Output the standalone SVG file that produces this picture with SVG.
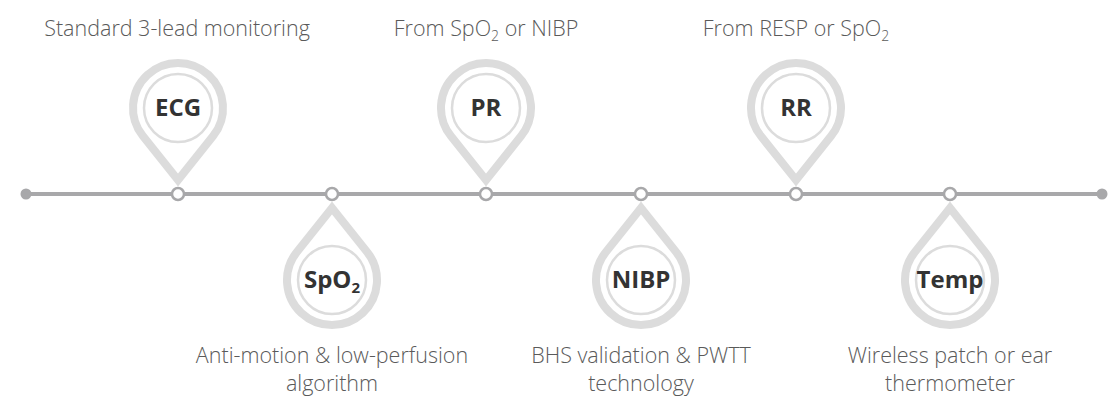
<svg xmlns="http://www.w3.org/2000/svg" width="1112" height="411" viewBox="0 0 1112 411">
<defs>
<style>
.pin{fill:#fff;stroke:#dcdcdc;stroke-width:8;stroke-linejoin:miter}
.inner{fill:#fff;stroke:#dcdcdc;stroke-width:2.5}
.lbl{font-family:"Open Sans","Liberation Sans",sans-serif;font-weight:700;font-size:24px;fill:#333;text-anchor:middle}
.cap{font-family:"Open Sans","Liberation Sans",sans-serif;font-weight:300;font-size:21.5px;fill:#5a5a5a;text-anchor:middle}
.axis{stroke:#a8a8aa;stroke-width:4;fill:none}
.node{fill:#fff;stroke:#a8a8aa;stroke-width:2.5}
.end{fill:#a8a8aa}
</style>
<path id="pinUp" d="M0 72 L-35.1 28.1 A45 45 0 1 1 35.1 28.1 Z"/>
<path id="pinDown" d="M0 -72 L-35.1 -28.1 A45 45 0 1 0 35.1 -28.1 Z"/>
</defs>
<rect width="1112" height="411" fill="#fff"/>
<g id="connectors">
<line class="axis" x1="26" y1="194" x2="1102" y2="194"/>
<circle class="end" cx="26" cy="194" r="5.5"/>
<circle class="end" cx="1102" cy="194" r="5.5"/>
</g>
<g id="ecg">
<use href="#pinUp" class="pin" x="178" y="108"/>
<circle class="inner" cx="178" cy="108" r="34"/>
<text class="lbl" x="178" y="116">ECG</text>
<circle class="node" cx="178" cy="194" r="6"/>
<text class="cap" x="177" y="36">Standard 3-lead monitoring</text>
</g>
<g id="spo2">
<use href="#pinDown" class="pin" x="332" y="280"/>
<circle class="inner" cx="332" cy="280" r="34"/>
<text class="lbl" x="332" y="288">SpO<tspan font-size="15" dy="5">2</tspan></text>
<circle class="node" cx="332" cy="194" r="6"/>
<text class="cap" x="332" y="363">Anti-motion &amp; low-perfusion</text>
<text class="cap" x="332" y="391">algorithm</text>
</g>
<g id="pr">
<use href="#pinUp" class="pin" x="486" y="108"/>
<circle class="inner" cx="486" cy="108" r="34"/>
<text class="lbl" x="486" y="116">PR</text>
<circle class="node" cx="486" cy="194" r="6"/>
<text class="cap" x="486" y="36">From SpO<tspan font-size="14" dy="5">2</tspan><tspan dy="-5"> or NIBP</tspan></text>
</g>
<g id="nibp">
<use href="#pinDown" class="pin" x="641" y="280"/>
<circle class="inner" cx="641" cy="280" r="34"/>
<text class="lbl" x="641" y="288">NIBP</text>
<circle class="node" cx="641" cy="194" r="6"/>
<text class="cap" x="641" y="363">BHS validation &amp; PWTT</text>
<text class="cap" x="641" y="391">technology</text>
</g>
<g id="rr">
<use href="#pinUp" class="pin" x="796" y="108"/>
<circle class="inner" cx="796" cy="108" r="34"/>
<text class="lbl" x="796" y="116">RR</text>
<circle class="node" cx="796" cy="194" r="6"/>
<text class="cap" x="796" y="36">From RESP or SpO<tspan font-size="14" dy="5">2</tspan></text>
</g>
<g id="temp">
<use href="#pinDown" class="pin" x="950" y="280"/>
<circle class="inner" cx="950" cy="280" r="34"/>
<text class="lbl" x="950" y="288">Temp</text>
<circle class="node" cx="950" cy="194" r="6"/>
<text class="cap" x="950" y="363">Wireless patch or ear</text>
<text class="cap" x="950" y="391">thermometer</text>
</g>
</svg>
